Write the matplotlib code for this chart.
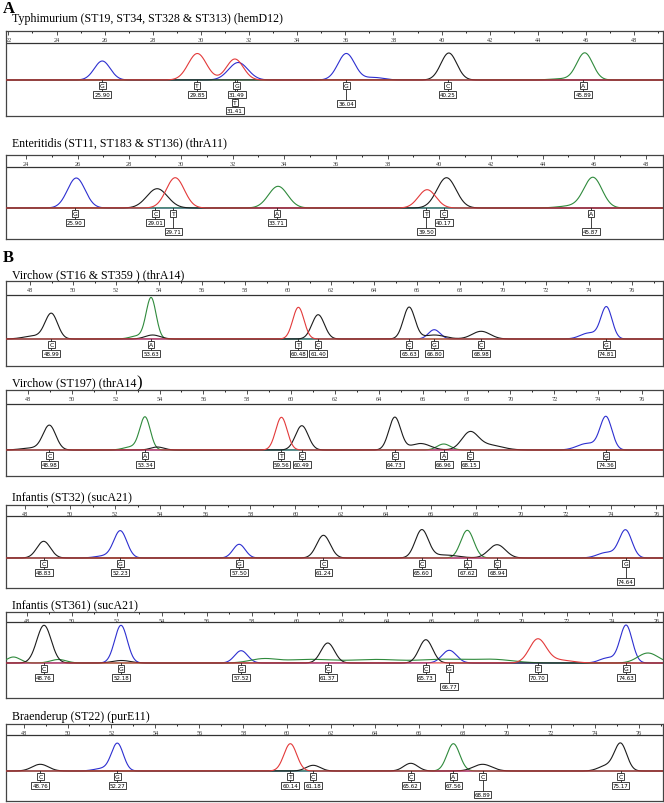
import matplotlib.pyplot as plt
import numpy as np

plt.rcParams['font.family'] = ['Liberation Serif', 'DejaVu Serif']

W, H = 664, 804
DYE = {'A': '#2f8a3c', 'C': '#1c1c1c', 'G': '#2d2fd0', 'T': '#e33a3a'}

titles = [
    'Typhimurium (ST19, ST34, ST328 & ST313) (hemD12)',
    'Enteritidis (ST11, ST183 & ST136) (thrA11)',
    'Virchow (ST16 & ST359 ) (thrA14)',
    'Virchow (ST197) (thrA14',
    'Infantis (ST32) (sucA21)',
    'Infantis (ST361) (sucA21)',
    'Braenderup (ST22) (purE11)',
]

# size range shown on each ruler
x_ranges = [(21.9, 49.2), (23.23, 48.66), (46.88, 77.44), (47.0, 76.96),
            (47.16, 76.3), (47.07, 76.27), (47.2, 77.1)]

# peaks: dye, size, height, width
p1_peaks = [('G', 25.90, 19, 0.33), ('T', 29.85, 26.5, 0.38), ('T', 31.41, 21, 0.35),
            ('G', 31.55, 17.5, 0.40), ('G', 36.04, 26.5, 0.35), ('G', 37.2, 2.5, 0.4),
            ('C', 40.30, 27, 0.33), ('A', 45.95, 27, 0.33), ('A', 45.0, 1.2, 0.5)]
p2_peaks = [('G', 25.95, 30, 0.34), ('C', 29.08, 19.3, 0.40), ('T', 29.78, 30.3, 0.35),
            ('A', 33.76, 21.7, 0.37), ('T', 39.53, 18.3, 0.34), ('C', 40.28, 30.3, 0.37),
            ('A', 45.95, 30.3, 0.35), ('A', 45.1, 2.0, 0.5)]
p3_peaks = [('C', 48.99, 25, 0.29), ('C', 48.2, 3, 0.5), ('A', 53.63, 41, 0.23),
            ('A', 53.0, 3, 0.35), ('C', 53.7, 4, 0.35), ('T', 60.48, 31.7, 0.26),
            ('C', 61.40, 24.3, 0.29), ('C', 65.63, 31.7, 0.27), ('G', 66.80, 9.3, 0.27),
            ('C', 66.8, 4, 0.5), ('C', 68.98, 7.7, 0.42), ('G', 74.81, 31.7, 0.26),
            ('G', 74.0, 6, 0.4)]
p4_peaks = [('C', 48.98, 24.3, 0.29), ('C', 48.2, 2, 0.5), ('A', 53.34, 32.7, 0.24),
            ('A', 52.7, 3, 0.35), ('C', 53.9, 3, 0.3), ('T', 59.56, 32.7, 0.26),
            ('C', 60.49, 24.3, 0.29), ('C', 64.73, 32.7, 0.27), ('C', 65.9, 6.5, 0.45),
            ('A', 66.96, 6.0, 0.3), ('C', 68.15, 16.7, 0.37), ('C', 69.0, 5, 0.6),
            ('G', 74.36, 32.7, 0.27), ('G', 73.5, 6.5, 0.45)]
p5_peaks = [('C', 48.83, 16.7, 0.30), ('G', 52.23, 27, 0.29), ('G', 51.5, 2, 0.4),
            ('G', 57.50, 13.7, 0.27), ('C', 61.24, 22.7, 0.30), ('C', 65.60, 27.7, 0.29),
            ('C', 66.6, 3, 0.6), ('A', 67.62, 27.7, 0.29), ('C', 68.94, 13.3, 0.37),
            ('G', 74.64, 27.7, 0.28), ('G', 73.8, 5.5, 0.4)]
p6_peaks = [('C', 48.76, 37.7, 0.32), ('A', 47.4, 6, 0.3), ('A', 49.4, 3.5, 0.35),
            ('G', 52.18, 37.7, 0.28), ('C', 52.2, 2.5, 0.4), ('G', 57.52, 12.3, 0.29),
            ('A', 58.5, 4, 0.6), ('A', 60.5, 3.5, 1.0), ('A', 63.5, 3.5, 1.2),
            ('A', 66.5, 3.5, 1.0), ('A', 68.7, 3.5, 0.9), ('C', 61.37, 20, 0.30),
            ('C', 65.73, 23.3, 0.30), ('G', 66.77, 12.7, 0.32), ('T', 70.70, 23.3, 0.37),
            ('T', 71.6, 3, 0.6), ('G', 74.63, 37.7, 0.27), ('G', 73.8, 5, 0.35),
            ('A', 75.6, 10, 0.45)]
p7_peaks = [('C', 48.76, 6.7, 0.37), ('G', 52.27, 27.3, 0.27), ('G', 51.6, 2.5, 0.4),
            ('T', 60.14, 27.3, 0.29), ('C', 61.18, 5.7, 0.32), ('C', 65.62, 7.7, 0.32),
            ('A', 67.56, 27.3, 0.29), ('C', 68.89, 6.7, 0.42), ('C', 75.17, 27.3, 0.28),
            ('C', 74.5, 5, 0.35)]

# base calls: letter, size
p1_calls = [('G', '25.90'), ('T', '29.85'), ('G', '31.49'), ('T', '31.41'),
            ('G', '36.04'), ('C', '40.25'), ('A', '45.89')]
p2_calls = [('G', '25.90'), ('C', '29.01'), ('T', '29.71'), ('A', '33.71'),
            ('T', '39.50'), ('C', '40.17'), ('A', '45.87')]
p3_calls = [('C', '48.99'), ('A', '53.63'), ('T', '60.48'), ('C', '61.40'),
            ('C', '65.63'), ('G', '66.80'), ('C', '68.98'), ('G', '74.81')]
p4_calls = [('C', '48.98'), ('A', '53.34'), ('T', '59.56'), ('C', '60.49'),
            ('C', '64.73'), ('A', '66.96'), ('C', '68.15'), ('G', '74.36')]
p5_calls = [('C', '48.83'), ('G', '52.23'), ('G', '57.50'), ('C', '61.24'),
            ('C', '65.60'), ('A', '67.62'), ('C', '68.94'), ('G', '74.64')]
p6_calls = [('C', '48.76'), ('G', '52.18'), ('G', '57.52'), ('C', '61.37'),
            ('C', '65.73'), ('G', '66.77'), ('T', '70.70'), ('G', '74.63')]
p7_calls = [('C', '48.76'), ('G', '52.27'), ('T', '60.14'), ('C', '61.18'),
            ('C', '65.62'), ('A', '67.56'), ('C', '68.89'), ('C', '75.17')]

# label row for each call: 0 normal, 1 dropped, 2 stacked under previous
p1_rows = [0, 0, 0, 2, 1, 0, 0]
p2_rows = [0, 0, 1, 0, 1, 0, 1]
p3_rows = [0] * 8
p4_rows = [0] * 8
p5_rows = [0, 0, 0, 0, 0, 0, 0, 1]
p6_rows = [0, 0, 0, 0, 0, 1, 0, 0]
p7_rows = [0, 0, 0, 0, 0, 0, 1, 0]

peaks = [p1_peaks, p2_peaks, p3_peaks, p4_peaks, p5_peaks, p6_peaks, p7_peaks]
calls = [p1_calls, p2_calls, p3_calls, p4_calls, p5_calls, p6_calls, p7_calls]
rows = [p1_rows, p2_rows, p3_rows, p4_rows, p5_rows, p6_rows, p7_rows]

# layout in pixels: box top, ruler line, baseline, box bottom, title y
box_top = [32, 156, 282, 391, 506, 613, 725]
ruler_y = [44, 168, 296, 405, 517, 623, 736]
base_y = [81, 209, 340, 451, 559, 664, 772]
box_bot = [117, 240, 367, 477, 589, 699, 802]
title_y = [19, 143, 275, 383, 498, 606, 717]

fig = plt.figure(figsize=(W / 100, H / 100), dpi=100)

fig.text(3 / W, 1 - 1 / H, 'A', fontsize=12, fontweight='bold', va='top')
fig.text(3 / W, 1 - 250 / H, 'B', fontsize=12, fontweight='bold', va='top')

for i in range(7):
    top, rul, base, bot = box_top[i], ruler_y[i], base_y[i], box_bot[i]
    ax = fig.add_axes([6 / W, 1 - bot / H, 657 / W, (bot - top) / H])
    x0, x1 = x_ranges[i]
    ax.set_xlim(x0, x1)
    ax.set_ylim(-(bot - base), base - top)

    t = fig.text(12 / W, 1 - title_y[i] / H, titles[i], fontsize=8.6, va='center')
    if i == 3:
        ax.annotate(')', xy=(1, 0.5), xycoords=t, va='center', ha='left',
                    fontsize=12, annotation_clip=False)

    # ruler
    ax.axhline(base - rul, color='#333333', lw=0.9)
    ax.set_xticks(np.arange(np.ceil(x0 / 2) * 2, x1, 2))
    ax.set_xticks(np.arange(np.ceil(x0 / 2) * 2 + 1, x1, 2), minor=True)
    ax.xaxis.tick_top()
    ax.tick_params(axis='x', which='major', direction='in', length=3, width=0.6,
                   labelsize=4.5, pad=-7.6, colors='#333333')
    ax.tick_params(axis='x', which='minor', direction='in', length=1.5, width=0.6)
    ax.set_yticks([])
    for s in ax.spines.values():
        s.set_color('#444444')
        s.set_linewidth(0.9)

    # traces
    xs = np.linspace(x0, x1, 2000)
    for dye in ['G', 'A', 'C', 'T']:
        ys = np.zeros_like(xs)
        for d, pos, h, w in peaks[i]:
            if d == dye:
                ys += h * np.exp(-0.5 * ((xs - pos) / w) ** 2)
        ax.plot(xs, ys, color=DYE[dye], lw=0.8, zorder=3 if dye != 'T' else 4)

    # base call labels
    box_l = dict(boxstyle='square,pad=0.18', fc='white', ec='#222222', lw=0.6)
    for (letter, val), r in zip(calls[i], rows[i]):
        xv = float(val)
        if r == 2:
            dl, dn = 22.5, 30.5
        elif r == 1:
            dl, dn = 5.5, 23.5
        else:
            dl, dn = 5.5, 14.5
        ax.plot([xv, xv], [0, -dn], color='#222222', lw=0.6, zorder=5)
        ax.text(xv, -dl, letter, fontsize=4.4, family='DejaVu Sans', ha='center',
                va='center', bbox=box_l, zorder=6)
        ax.text(xv, -dn, val, fontsize=4.0, family='DejaVu Sans', ha='center',
                va='center', bbox=box_l, zorder=6)

fig.savefig('out.png', dpi=100)
